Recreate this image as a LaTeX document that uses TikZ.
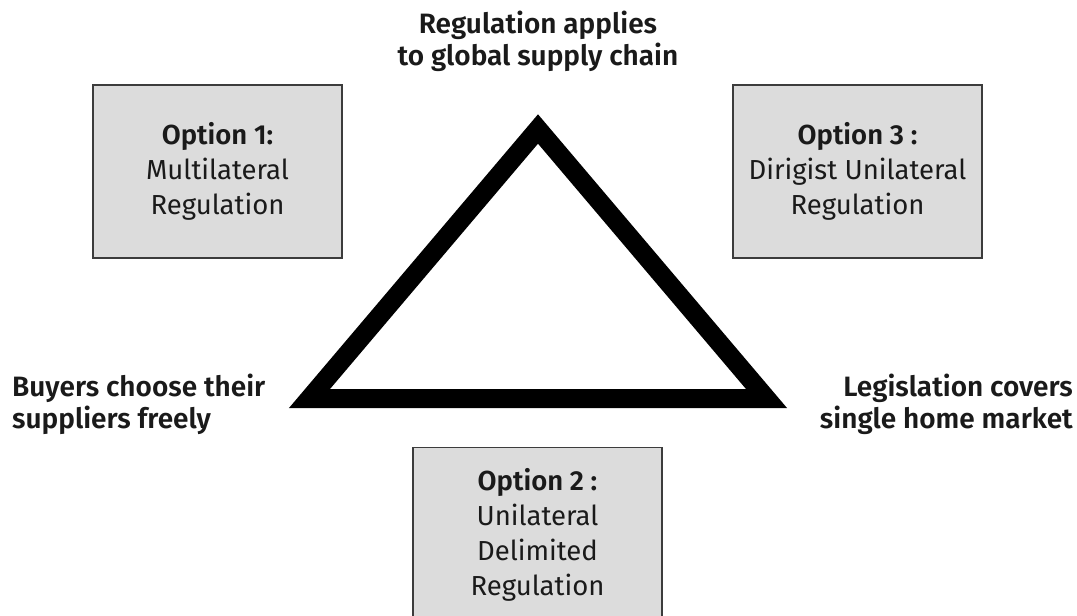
\documentclass[tikz,border=0pt]{standalone}
\usepackage{fontspec}
\setmainfont{Fira Sans}[BoldFont={Fira Sans SemiBold}]
\usepackage{tikz}

\definecolor{boxgray}{RGB}{220,220,220}
\definecolor{edgegray}{RGB}{60,60,60}
\definecolor{txt}{RGB}{26,26,26}

\tikzset{
  optbox/.style={draw=edgegray, line width=1.3pt, fill=boxgray, minimum width=249pt, inner sep=0pt},
  optlabel/.style={text=txt, align=center, inner sep=0pt, font=\fontsize{27.5}{35}\selectfont},
  sidelabel/.style={text=txt, inner sep=0pt, font=\fontsize{28}{32}\selectfont\bfseries}
}

\begin{document}
\begin{tikzpicture}[x=1pt,y=1pt,yscale=-1,xscale=1]
        \clip (0,0) rectangle (1077,616);

        %Shape: Rectangle [id:opt1]
        \node [optbox, minimum height=173pt] (opt1) at (217.5,171.5) {};
        %Shape: Rectangle [id:opt3]
        \node [optbox, minimum height=173pt] (opt3) at (857.5,171.5) {};
        %Shape: Rectangle [id:opt2]
        \node [optbox, minimum height=200pt, anchor=north] (opt2) at (537.5,447) {};

        %Shape: Polygon [id:triangle]
        \coordinate (apex) at (538,129);
        \coordinate (left) at (309.5,398.5);
        \coordinate (right) at (766.5,398.5);
        \draw [line width=19pt, line join=miter, miter limit=10] (apex) -- (left) -- (right) -- cycle ;

        % Text Node
        \node [optlabel] (opt1txt) at (opt1.center) {\textbf{Option 1:}\\Multilateral\\Regulation};
        % Text Node
        \node [optlabel] (opt3txt) at (opt3.center) {\textbf{Option 3 :}\\Dirigist Unilateral\\Regulation};
        % Text Node
        \node [optlabel] (opt2txt) at (537.5,535) {\textbf{Option 2 :}\\Unilateral\\Delimited\\Regulation};

        % Text Node
        \node [sidelabel, align=center] (toplab) at (538,41) {Regulation applies\\to global supply chain};
        % Text Node
        \node [sidelabel, align=left, anchor=west] (leftlab) at (12,404) {Buyers choose their\\suppliers freely};
        % Text Node
        \node [sidelabel, align=right, anchor=east] (rightlab) at (1073,404) {Legislation covers\\single home market};

    \end{tikzpicture}
\end{document}
